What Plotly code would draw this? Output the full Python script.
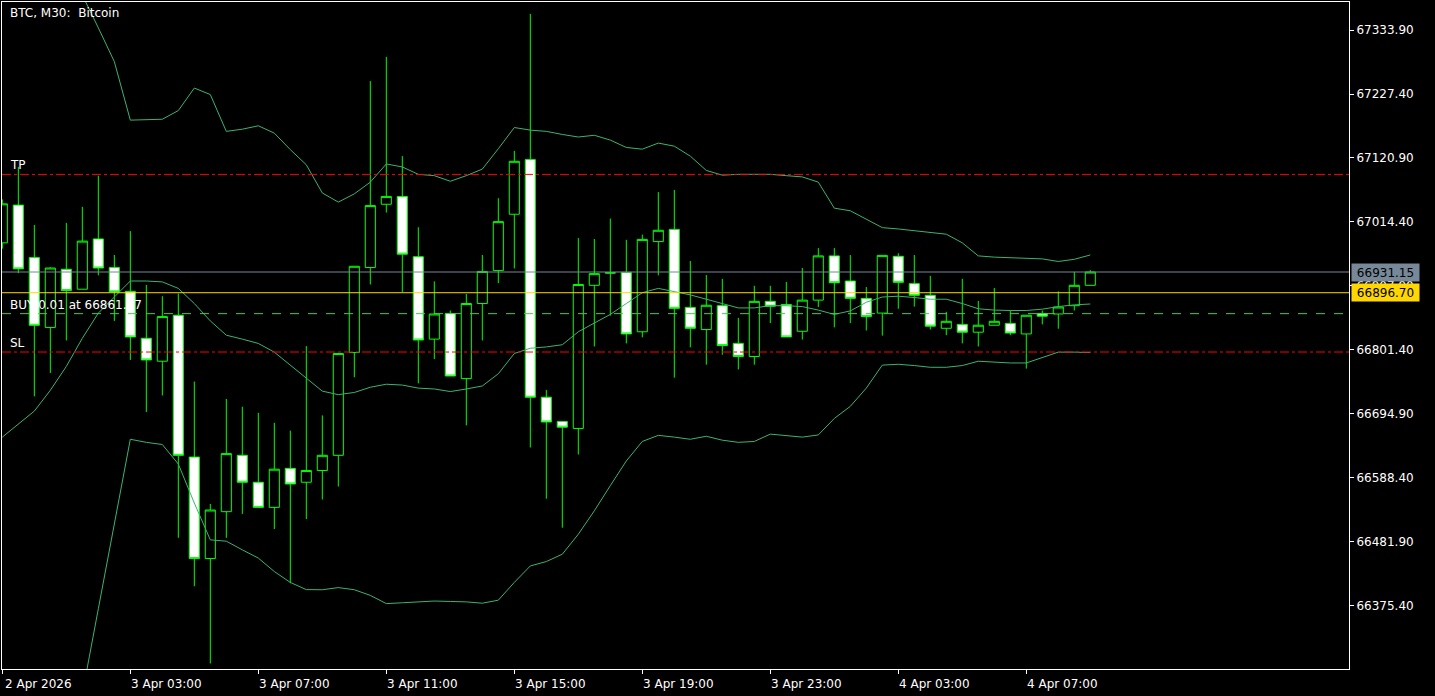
import plotly.graph_objects as go
import pandas as pd

# ---------------- data ----------------
start = pd.Timestamp("2026-04-02 23:00")
times = pd.date_range(start, periods=69, freq="30min")

open_ = [66979.7, 67042.5, 66955.1, 66838.9, 66935.7, 66902.5, 66986.2, 66938.6, 66898.9, 66820.9,
         66782.7, 66859.2, 66623.2, 66454.3, 66532.3, 66626.1, 66581.3, 66539.5, 66604.4, 66581.3,
         66600.8, 66626.1, 66797.1, 66938.6, 67043.9, 67056.9, 66956.6, 66819.5, 66862.0, 66753.8,
         66878.7, 66933.5, 67027.3, 67118.2, 66722.8, 66682.4, 66670.8, 66909.0, 66929.9, 66930.6,
         66831.7, 66981.8, 67002.0, 66872.2, 66835.4, 66875.1, 66812.3, 66790.6, 66882.3, 66877.2,
         66832.5, 66884.4, 66958.0, 66916.2, 66887.3, 66862.8, 66957.3, 66911.8, 66892.4, 66837.5,
         66844.0, 66831.0, 66842.6, 66845.5, 66828.1, 66862.0, 66861.3, 66875.1, 66909.0]
high = [67052.0, 67106.0, 67009.3, 66939.3, 67012.9, 67039.6, 67091.5, 66959.5, 66999.2, 66909.7,
        66890.9, 66895.3, 66748.8, 66545.2, 66719.9, 66706.9, 66696.8, 66680.2, 66667.2, 66807.9,
        66692.5, 66795.6, 66940.7, 67248.9, 67289.3, 67124.0, 67005.7, 66915.5, 66867.1, 66894.5,
        66959.5, 67054.0, 67132.7, 67360.7, 66735.0, 66682.4, 66987.6, 66986.2, 67020.1, 66984.7,
        66993.4, 67064.1, 67067.7, 66949.4, 66926.3, 66919.8, 66854.8, 66908.2, 66908.2, 66914.7,
        66937.8, 66971.0, 66971.0, 66959.5, 66906.1, 66958.8, 66962.4, 66959.5, 66924.8, 66864.9,
        66919.8, 66883.0, 66904.6, 66867.1, 66859.2, 66867.1, 66898.9, 66931.4, 66934.3]
low = [66970.0, 66929.2, 66724.2, 66763.2, 66817.3, 66902.5, 66925.6, 66849.8, 66784.8, 66698.2,
       66725.7, 66488.8, 66408.2, 66279.7, 66488.8, 66528.6, 66539.5, 66503.4, 66413.2, 66520.0,
       66552.5, 66574.1, 66756.0, 66910.4, 67030.2, 66897.4, 66745.9, 66786.3, 66758.1, 66675.9,
       66817.3, 66912.6, 66937.1, 66639.1, 66553.9, 66505.6, 66627.5, 66807.2, 66858.5, 66812.3,
       66822.4, 66925.6, 66755.3, 66805.8, 66776.9, 66793.5, 66769.0, 66776.9, 66846.2, 66823.1,
       66818.7, 66872.9, 66839.0, 66846.2, 66833.9, 66825.3, 66870.0, 66873.6, 66835.4, 66826.0,
       66812.3, 66807.2, 66842.6, 66826.0, 66770.4, 66844.0, 66836.8, 66867.1, 66909.0]
close = [67044.6, 66936.4, 66842.6, 66937.8, 66900.3, 66982.6, 66937.8, 66898.1, 66823.1, 66784.8,
         66857.0, 66626.1, 66454.3, 66535.1, 66629.0, 66581.3, 66539.5, 66603.0, 66578.4, 66600.8,
         66626.1, 66795.6, 66940.7, 67041.7, 67056.9, 66960.9, 66818.0, 66861.3, 66758.1, 66878.7,
         66932.1, 67015.0, 67115.4, 66722.8, 66681.6, 66673.0, 66910.4, 66928.5, 66929.5, 66828.1,
         66985.4, 67000.6, 66870.7, 66837.5, 66875.8, 66808.7, 66790.6, 66882.3, 66874.3, 66823.1,
         66884.4, 66958.0, 66913.3, 66887.3, 66857.0, 66958.8, 66914.0, 66892.4, 66841.1, 66849.1,
         66831.0, 66842.6, 66849.1, 66829.6, 66859.2, 66857.7, 66872.9, 66909.0, 66931.15]

bb_upper = [67480, 67500, 67490, 67470, 67440, 67392, 67337.6, 67281.3, 67183.9, 67184.6,
            67185.4, 67199.8, 67237.3, 67226.5, 67165.2, 67168.8, 67174.5, 67162.3, 67134.8, 67109.6,
            67062.7, 67047.5, 67061.2, 67080.7, 67111.0, 67106.0, 67093.7, 67091.5, 67082.2, 67091.5,
            67102.4, 67136.3, 67171.6, 67167.3, 67165.2, 67160.1, 67155.8, 67158.7, 67150.7, 67138.4,
            67135.6, 67145.7, 67140.6, 67124.0, 67100.2, 67092.3, 67093.7, 67093.7, 67093.7, 67091.5,
            67089.4, 67080.7, 67037.4, 67033.1, 67019.4, 67005.0, 67002.8, 66999.9, 66997.0, 66994.1,
            66979.7, 66958.0, 66955.9, 66955.1, 66954.4, 66953.0, 66948.7, 66952.3, 66959.5]
bb_middle = [66656.4, 66678.0, 66699.7, 66734.3, 66774.0, 66820.9, 66862.8, 66889.5, 66916.2, 66916.2,
             66914.7, 66903.9, 66878.7, 66849.8, 66826.0, 66819.5, 66812.3, 66797.8, 66776.2, 66756.0,
             66732.9, 66727.1, 66730.7, 66739.4, 66744.4, 66743.0, 66737.9, 66736.5, 66732.2, 66736.5,
             66741.5, 66761.8, 66795.6, 66804.3, 66806.5, 66810.1, 66831.7, 66846.2, 66860.6, 66878.7,
             66896.7, 66903.9, 66898.9, 66893.1, 66885.9, 66878.7, 66871.4, 66871.4, 66875.1, 66875.1,
             66873.6, 66867.8, 66860.6, 66866.4, 66880.8, 66889.5, 66890.9, 66888.7, 66885.9, 66885.9,
             66878.7, 66870.0, 66867.8, 66867.1, 66867.1, 66869.3, 66873.6, 66876.5, 66877.9]
bb_lower = [65833, 65856, 65909, 65999, 66108, 66229, 66370.6, 66513.5, 66652.8, 66647.7,
            66644.1, 66611.6, 66546.7, 66485.4, 66483.2, 66468.8, 66455.1, 66432.7, 66414.6, 66402.6,
            66402.4, 66406.0, 66402.4, 66393.0, 66379.3, 66380.7, 66382.2, 66383.6, 66382.9, 66382.2,
            66380.0, 66385.0, 66414.6, 66442.0, 66449.3, 66461.5, 66494.8, 66533.7, 66575.6, 66616.7,
            66649.2, 66659.3, 66656.4, 66652.8, 66657.8, 66651.3, 66647.7, 66649.2, 66661.4, 66658.5,
            66656.4, 66660.0, 66687.4, 66707.6, 66737.9, 66776.2, 66777.6, 66775.5, 66772.6, 66772.6,
            66775.5, 66782.7, 66781.2, 66779.8, 66779.8, 66788.4, 66797.8, 66797.8, 66797.1]

x_tick_idx = [0, 8, 16, 24, 32, 40, 48, 56, 64]
x_tick_text = ["2 Apr 2026", "3 Apr 03:00", "3 Apr 07:00", "3 Apr 11:00", "3 Apr 15:00",
               "3 Apr 19:00", "3 Apr 23:00", "4 Apr 03:00", "4 Apr 07:00"]
y_tick_vals = [67333.90, 67227.40, 67120.90, 67014.40, 66907.90, 66801.40,
               66694.90, 66588.40, 66481.90, 66375.40]

tp_price = 67093.6
sl_price = 66798.0
entry_price = 66861.87
bid_price = 66931.15
yellow_price = 66896.70
entry_text = "BUY 0.01 at 66861.87"
title_text = "BTC, M30:  Bitcoin"

# ---------------- figure ----------------
FONT = "DejaVu Sans"
fig = go.Figure()

fig.add_trace(go.Candlestick(
    x=times, open=open_, high=high, low=low, close=close,
    increasing=dict(line=dict(color="#00FF00", width=1), fillcolor="#000000"),
    decreasing=dict(line=dict(color="#00FF00", width=1), fillcolor="#FFFFFF"),
    whiskerwidth=0, showlegend=False, hoverinfo="skip",
))

for band in (bb_upper, bb_middle, bb_lower):
    fig.add_trace(go.Scatter(x=times, y=band, mode="lines",
                             line=dict(color="#3CB371", width=1),
                             showlegend=False, hoverinfo="skip"))

half = pd.Timedelta(minutes=30)
x_range = [start - half * 0.02, start + half * 84.17]

shapes = [
    dict(type="line", xref="paper", x0=0, x1=1, yref="y", y0=tp_price, y1=tp_price,
         line=dict(color="#FF0000", width=1, dash="dashdot")),
    dict(type="line", xref="paper", x0=0, x1=1, yref="y", y0=sl_price, y1=sl_price,
         line=dict(color="#FF0000", width=1, dash="dashdot")),
    dict(type="line", xref="paper", x0=0, x1=1, yref="y", y0=bid_price, y1=bid_price,
         line=dict(color="#778899", width=1)),
    dict(type="line", xref="paper", x0=0, x1=1, yref="y", y0=yellow_price, y1=yellow_price,
         line=dict(color="#FFD700", width=1)),
    dict(type="line", xref="paper", x0=0, x1=1, yref="y", y0=entry_price, y1=entry_price,
         line=dict(color="#3CD23C", width=1, dash="dash")),
]

def lbl(text, y, yref="y", yanchor="bottom", yshift=0):
    return dict(text=text, xref="paper", x=0, xanchor="left", xshift=6,
                yref=yref, y=y, yanchor=yanchor, yshift=yshift, showarrow=False,
                font=dict(family=FONT, size=12, color="#FFFFFF"))

annotations = [
    lbl(title_text, 1, yref="paper", yanchor="middle", yshift=-11),
    lbl("TP", tp_price),
    lbl("SL", sl_price),
    lbl(entry_text, entry_price),
    dict(text="66931.15", xref="paper", x=1, xanchor="left", xshift=2,
         yref="y", y=bid_price, yanchor="middle", showarrow=False,
         width=67, height=17, bgcolor="#778899", borderpad=0,
         font=dict(family=FONT, size=12, color="#000000")),
    dict(text="66896.70", xref="paper", x=1, xanchor="left", xshift=2,
         yref="y", y=yellow_price, yanchor="middle", showarrow=False,
         width=67, height=17, bgcolor="#FFD700", borderpad=0,
         font=dict(family=FONT, size=12, color="#000000")),
]

fig.update_layout(
    width=1435, height=696,
    margin=dict(l=2, r=86, t=2, b=27),
    paper_bgcolor="#000000", plot_bgcolor="#000000",
    font=dict(family=FONT, size=12, color="#FFFFFF"),
    boxgap=0.1, boxgroupgap=0.3,
    shapes=shapes, annotations=annotations,
    xaxis=dict(
        range=x_range, rangeslider=dict(visible=False),
        tickvals=[times[i] for i in x_tick_idx], ticktext=x_tick_text,
        ticks="outside", ticklen=4, tickcolor="#FFFFFF",
        ticklabelshift=36, ticklabelstandoff=0,
        showline=True, linecolor="#FFFFFF", linewidth=1, mirror=True,
        showgrid=False, zeroline=False,
        tickfont=dict(family=FONT, size=12, color="#FFFFFF"),
    ),
    yaxis=dict(
        side="right", range=[66270.5, 67380.5],
        tickvals=y_tick_vals, ticktext=[f"{v:.2f}" for v in y_tick_vals],
        ticks="outside", ticklen=4, tickcolor="#FFFFFF",
        showline=True, linecolor="#FFFFFF", linewidth=1, mirror=True,
        showgrid=False, zeroline=False,
        tickfont=dict(family=FONT, size=12, color="#FFFFFF"),
    ),
    hovermode=False,
)

fig.write_html(
    "out.html",
    config={"displayModeBar": False, "staticPlot": True},
    post_script="document.body.style.margin='0';document.body.style.background='#000';",
)
